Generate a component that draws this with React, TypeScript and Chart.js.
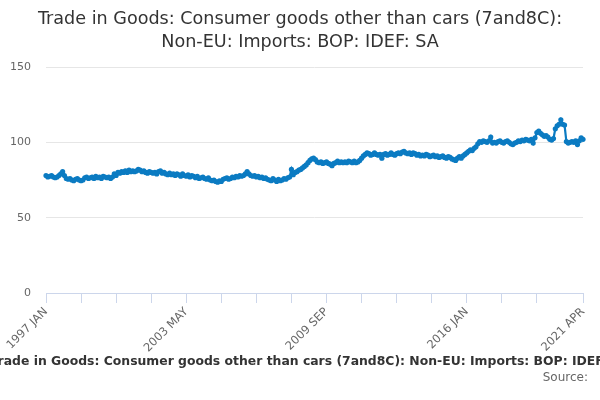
import { useRef, useEffect } from 'react';
import { Chart, registerables } from 'chart.js';
import React from 'react';

Chart.register(...registerables);

// Monthly periods, 1997 JAN .. 2021 APR
const months: string[] = ['JAN', 'FEB', 'MAR', 'APR', 'MAY', 'JUN', 'JUL', 'AUG', 'SEP', 'OCT', 'NOV', 'DEC'];
const years: number[] = [1997, 1998, 1999, 2000, 2001, 2002, 2003, 2004, 2005, 2006, 2007, 2008,
  2009, 2010, 2011, 2012, 2013, 2014, 2015, 2016, 2017, 2018, 2019, 2020, 2021];

const values: number[] = [
  // 1997
  78, 77, 77.5, 78, 77, 76.5, 77, 78, 79, 80.5, 78, 76,
  // 1998
  75.5, 76, 75, 74.5, 75.5, 76, 75, 74.5, 75, 76.5, 77, 76,
  // 1999
  76.5, 77, 76, 77.5, 76.5, 77, 76, 77.5, 77, 76.5, 77, 76,
  // 2000
  77, 79, 78, 80, 79.5, 80.5, 80, 81, 80, 81.5, 80.5, 81,
  // 2001
  80.5, 81, 82, 81.5, 80.5, 81, 80, 79.5, 80.5, 80, 79.5, 80,
  // 2002
  79, 80.5, 81, 79.5, 80, 79, 78.5, 79.5, 78.5, 79, 78, 79,
  // 2003
  78.5, 77.5, 79, 78, 77.5, 78.5, 77, 78, 77.5, 76.5, 77.5, 76,
  // 2004
  76.5, 77, 76, 75.5, 76.5, 75, 74.5, 75, 74, 73.5, 74.5, 74,
  // 2005
  75.5, 76, 76.5, 75.5, 76, 77, 76.5, 77.5, 77, 78, 77.5, 78,
  // 2006
  79, 80.5, 79, 78, 77.5, 78, 77, 77.5, 76.5, 77, 76, 76.5,
  // 2007
  75.5, 75, 74.5, 76, 75, 74, 75.5, 74.5, 75, 76, 75.5, 76.5,
  // 2008
  77, 82, 78.5, 80, 80.5, 81.5, 82, 83, 84, 85, 86.5, 88,
  // 2009
  89, 89.5, 88.5, 87, 86.5, 87, 86, 86.5, 87, 86, 85.5, 84.5,
  // 2010
  86, 86.5, 87.5, 86.5, 87, 86.5, 87, 86.5, 87.5, 87, 86.5, 87.5,
  // 2011
  86.5, 87, 88, 89.5, 91, 92, 93, 92.5, 91.5, 92, 93, 92,
  // 2012
  91.5, 92, 89.5, 92, 92.5, 91.5, 92, 93, 92, 91.5, 92.5, 93,
  // 2013
  92.5, 93.5, 94, 93, 92.5, 93, 92, 93, 92.5, 91.5, 92, 91,
  // 2014
  91.5, 91, 92, 91.5, 90.5, 91, 91.5, 90.5, 91, 90, 90.5, 91,
  // 2015
  90, 89.5, 90.5, 90, 89, 88.5, 88, 89.5, 90.5, 89.5, 91, 92,
  // 2016
  93, 94, 95, 94.5, 96, 97, 99, 100.5, 100, 101, 100.5, 100,
  // 2017
  101, 103.5, 99.5, 100, 99.5, 100.5, 101, 100, 99.5, 100.5, 101, 100,
  // 2018
  99, 98.5, 99.5, 100, 101, 100.5, 101.5, 101, 102, 101.5, 101, 102,
  // 2019
  99.5, 103, 106.5, 107.5, 106, 105, 104, 104.5, 103.5, 102, 101.5, 102.5,
  // 2020
  109, 111, 112, 115, 112, 111.5, 100.5, 99.5, 100, 100.5, 100, 101,
  // 2021
  98.5, 101, 103, 102,
];

const labels: string[] = values.map((_, i) => `${years[Math.floor(i / 12)]} ${months[i % 12]}`);

const titleLines: string[] = ['Trade in Goods: Consumer goods other than cars (7and8C):', 'Non-EU: Imports: BOP: IDEF: SA'];
const seriesName = 'Trade in Goods: Consumer goods other than cars (7and8C): Non-EU: Imports: BOP: IDEF: SA';
const sourceText = 'Source:';

const lineColor = '#0b7bc2';
const axisColor = '#ccd6eb';
const FONT = '"DejaVu Sans", sans-serif';

// titles and caption drawn straight on the canvas so they can overflow like the original
const textPlugin = {
  id: 'texts',
  afterDraw(chart: Chart) {
    const ctx = chart.ctx;
    ctx.save();
    ctx.fillStyle = '#333333';
    ctx.font = `17.6px ${FONT}`;
    ctx.textAlign = 'center';
    ctx.textBaseline = 'middle';
    ctx.fillText(titleLines[0], 300, 19);
    ctx.fillText(titleLines[1], 300, 42);

    ctx.font = `bold 12.4px ${FONT}`;
    ctx.textAlign = 'left';
    ctx.fillText(seriesName, -9.5, 362);

    ctx.fillStyle = '#666666';
    ctx.font = `12px ${FONT}`;
    ctx.textAlign = 'right';
    ctx.fillText(sourceText, 588, 378);
    ctx.restore();
  },
};

export default function App() {
  const canvasRef = useRef<HTMLCanvasElement>(null);

  useEffect(() => {
    const canvas = canvasRef.current;
    if (!canvas) return;
    const chart = new Chart(canvas, {
      type: 'line',
      data: {
        labels: labels,
        datasets: [{
          label: seriesName,
          data: values,
          borderColor: lineColor,
          backgroundColor: lineColor,
          borderWidth: 2.2,
          pointRadius: 2.6,
          pointBorderWidth: 0,
          pointBackgroundColor: lineColor,
          tension: 0,
        }],
      },
      options: {
        animation: false,
        responsive: true,
        maintainAspectRatio: false,
        layout: { padding: { top: 67, left: 0, right: 17, bottom: 40 } },
        plugins: {
          legend: { display: false },
          title: { display: false },
          tooltip: { enabled: false },
        },
        scales: {
          x: {
            afterFit: (scale: any) => { scale.height = 67; },
            border: { color: axisColor, width: 1 },
            grid: {
              drawOnChartArea: false,
              drawTicks: true,
              tickLength: 10,
              tickColor: (ctx: any) => {
                const i = ctx.index;
                return (i % 19 === 0 && i !== 285) || i === values.length - 1 ? axisColor : 'rgba(0,0,0,0)';
              },
            },
            ticks: {
              autoSkip: false,
              minRotation: 45,
              maxRotation: 45,
              color: '#666666',
              font: { family: FONT, size: 11.5 },
              padding: 2,
              callback: (_v: any, i: number) => (i % 76 === 0 || i === values.length - 1 ? labels[i] : ''),
            },
          },
          y: {
            min: 0,
            max: 150,
            afterFit: (scale: any) => { scale.width = 46; },
            border: { display: false },
            grid: { color: '#e6e6e6', drawTicks: false },
            ticks: {
              stepSize: 50,
              color: '#666666',
              font: { family: FONT, size: 11 },
              padding: 15,
            },
          },
        },
      },
      plugins: [textPlugin],
    });
    return () => {
      chart.destroy();
    };
  }, []);

  return (
    <div style={{ position: 'absolute', left: 0, top: 0, width: 600, height: 400, background: '#fff' }}>
      <canvas ref={canvasRef} />
    </div>
  );
}
